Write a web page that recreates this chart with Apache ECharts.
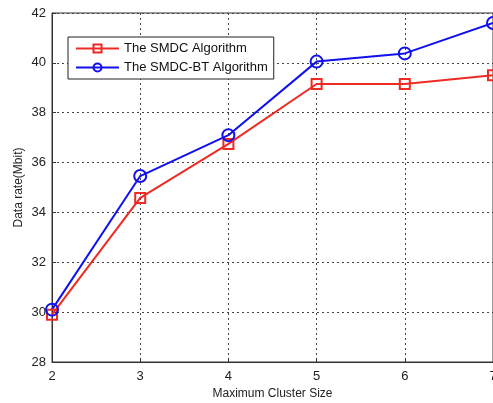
<!DOCTYPE html>
<html>
<head>
<meta charset="utf-8">
<script src="https://cdn.jsdelivr.net/npm/echarts@6/dist/echarts.min.js"></script>
<style>
  html, body { margin: 0; padding: 0; background: #fff; }
  #chart { width: 493px; height: 403px; }
</style>
</head>
<body>
<div id="chart"></div>
<script>
const clusterSizes = [2, 3, 4, 5, 6, 7]
const smdcValues = [29.9, 34.58, 36.75, 39.15, 39.15, 39.5]
const smdcBtValues = [30.1, 35.46, 37.1, 40.05, 40.38, 41.6]
const seriesNames = ['The SMDC Algorithm', 'The SMDC-BT Algorithm']

const chart = echarts.init(document.getElementById('chart'))
const font = 'Liberation Sans, Arial, sans-serif'

chart.setOption({
  animation: false,
  grid: {
    left: 52, top: 13, right: 0, bottom: 41,
    outerBoundsMode: 'none',
    show: true, borderColor: '#333', borderWidth: 1
  },
  legend: {
    left: 68, top: 37,
    orient: 'vertical',
    data: seriesNames,
    backgroundColor: '#fff',
    borderColor: '#222',
    borderWidth: 1,
    padding: [5, 6, 5, 7],
    itemGap: 6,
    itemWidth: 43,
    itemHeight: 10,
    textStyle: { fontFamily: font, fontSize: 13, color: '#111' }
  },
  xAxis: {
    type: 'value',
    min: 2, max: 7, interval: 1,
    name: 'Maximum Cluster Size',
    nameLocation: 'middle',
    nameGap: 26,
    nameTextStyle: { fontFamily: font, fontSize: 12, color: '#222' },
    axisLine: { lineStyle: { color: '#333' } },
    axisTick: { inside: true, length: 4, lineStyle: { color: '#333' } },
    axisLabel: { fontFamily: font, fontSize: 13, color: '#222', margin: 8 },
    splitLine: { show: true, lineStyle: { type: [2, 3], color: '#444', width: 1 } }
  },
  yAxis: {
    type: 'value',
    min: 28, max: 42, interval: 2,
    name: 'Data rate(Mbit)',
    nameLocation: 'middle',
    nameGap: 27,
    nameMoveOverlap: false,
    nameTextStyle: { fontFamily: font, fontSize: 12, color: '#222' },
    axisLine: { show: true, lineStyle: { color: '#333' } },
    axisTick: { show: true, inside: true, length: 4, lineStyle: { color: '#333' } },
    axisLabel: { fontFamily: font, fontSize: 13, color: '#222', margin: 6 },
    splitLine: { show: true, lineStyle: { type: [2, 3], color: '#444', width: 1 } }
  },
  series: [
    {
      name: seriesNames[0],
      type: 'line',
      data: clusterSizes.map((x, i) => [x, smdcValues[i]]),
      symbol: 'rect',
      symbolSize: 10,
      color: '#ee2a24',
      lineStyle: { width: 2, color: '#ee2a24' },
      itemStyle: { color: 'rgba(255,255,255,0)', borderColor: '#ee2a24', borderWidth: 2 }
    },
    {
      name: seriesNames[1],
      type: 'line',
      data: clusterSizes.map((x, i) => [x, smdcBtValues[i]]),
      symbol: 'circle',
      symbolSize: 12,
      color: '#1010f0',
      lineStyle: { width: 2, color: '#1010f0' },
      itemStyle: { color: 'rgba(255,255,255,0)', borderColor: '#1010f0', borderWidth: 2 }
    }
  ]
})
</script>
</body>
</html>
